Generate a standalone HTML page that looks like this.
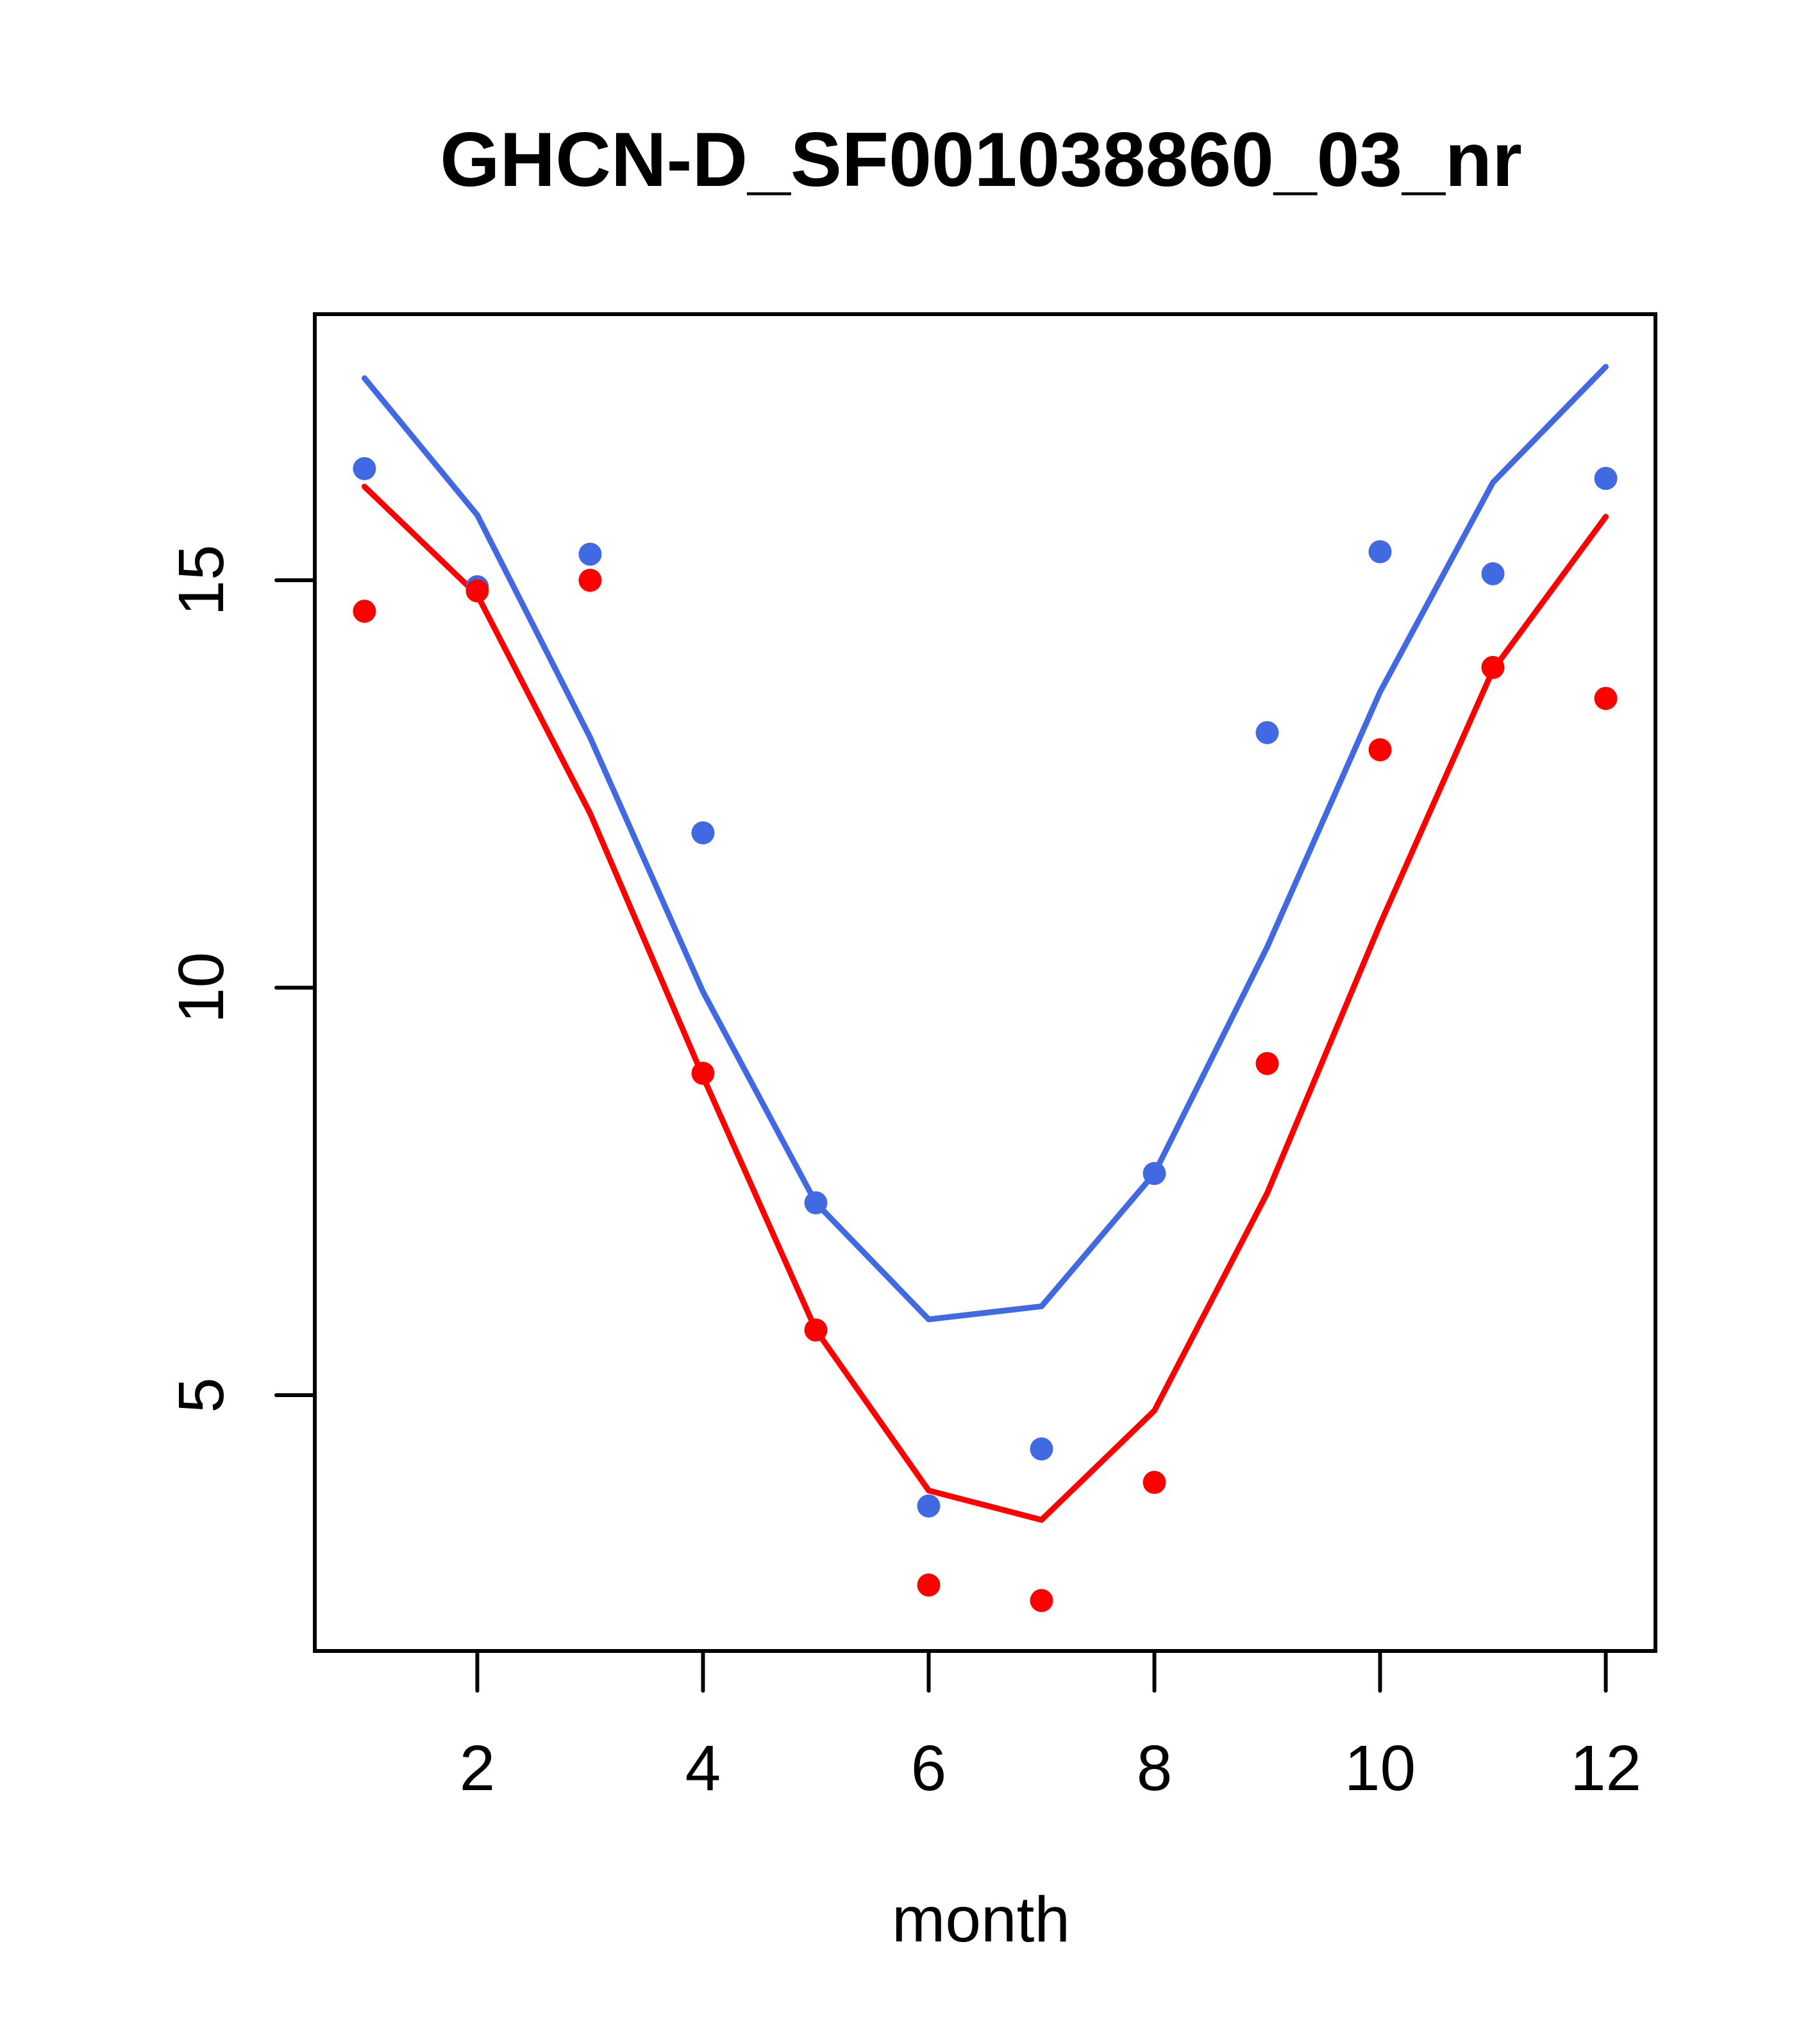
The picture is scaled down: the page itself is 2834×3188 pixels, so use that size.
<!DOCTYPE html>
<html><head><meta charset="utf-8"><style>html,body{margin:0;padding:0;background:#fff}svg{display:block}</style></head>
<body>
<svg id="chart" width="2834" height="3188" viewBox="0 0 2834 3188" xmlns="http://www.w3.org/2000/svg" font-family="Liberation Sans, sans-serif">
<rect width="2834" height="3188" fill="#fff"/>
<text x="1530" y="290" font-size="120" font-weight="bold" text-anchor="middle">GHCN-D_SF001038860_03_nr</text>
<text x="1530" y="3028" font-size="100" text-anchor="middle">month</text>
<g id="plot"></g>
</svg>
<script>
const months = [1,2,3,4,5,6,7,8,9,10,11,12];
const blueLine = [17.48,15.80,13.07,9.95,7.36,5.93,6.09,7.72,10.50,13.63,16.20,17.62];
const redLine = [16.15,14.82,12.14,8.91,5.80,3.83,3.47,4.81,7.48,10.78,13.90,15.78];
const blueDots = [16.37,14.92,15.32,11.90,7.36,3.64,4.34,7.72,13.13,15.35,15.08,16.25];
const redDots = [14.62,14.87,15.00,8.95,5.80,2.67,2.48,3.93,9.07,12.92,13.93,13.55];
const xTicks = [2,4,6,8,10,12];
const yTicks = [5,10,15];

const L=491,R=2582,T=490,B=2575;
const xMin=0.56,xMax=12.44;
const yPer=127.1, y15=905;
function xs(v){return L+(v-xMin)/(xMax-xMin)*(R-L);}
function ys(v){return y15-(v-15)*yPer;}
const NS='http://www.w3.org/2000/svg';
const g=document.getElementById('plot');
function mk(tag,attrs){const e=document.createElementNS(NS,tag);for(const k in attrs)e.setAttribute(k,attrs[k]);g.appendChild(e);return e;}

let box=mk('rect',{x:L,y:T,width:R-L,height:B-T,fill:'none',stroke:'#000','stroke-width':6});



xTicks.forEach(t=>{
  const x=xs(t);
  const l=mk('line',{x1:x,y1:B,x2:x,y2:B+62,stroke:'#000','stroke-width':6,'stroke-linecap':'round'});
  
  
  const tx=mk('text',{x:x,y:2792,'font-size':100,'text-anchor':'middle'});
  tx.textContent=t;
  
  
});
yTicks.forEach(t=>{
  const y=ys(t);
  const l=mk('line',{x1:L,y1:y,x2:L-60,y2:y,stroke:'#000','stroke-width':6,'stroke-linecap':'round'});
  
  
  const tx=mk('text',{x:348,y:y,'font-size':100,'text-anchor':'middle',transform:`rotate(-90 348 ${y})`});
  tx.textContent=t;
  
  
});

function line(vals,color,name){
  const p=mk('polyline',{points:vals.map((v,i)=>xs(months[i])+','+ys(v)).join(' '),fill:'none',stroke:color,'stroke-width':9,'stroke-linejoin':'round','stroke-linecap':'round'});
  
  
}
function dots(vals,color,name){
  vals.forEach((v,i)=>{
    const c=mk('circle',{cx:xs(months[i]),cy:ys(v),r:18,fill:color});
    
    
  });
}
line(blueLine,'#4169e1','blue-line');
line(redLine,'#ff0000','red-line');
dots(blueDots,'#4169e1','blue-point');
dots(redDots,'#ff0000','red-point');
</script>
</body></html>
